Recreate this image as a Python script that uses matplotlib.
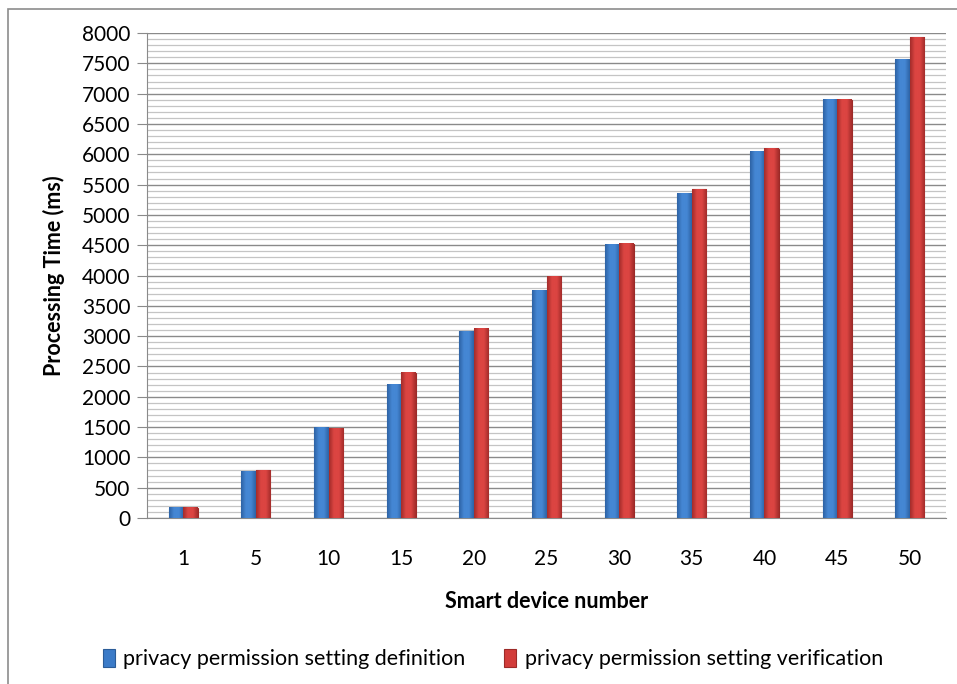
import matplotlib.pyplot as plt
import numpy as np
from matplotlib.patches import Rectangle

plt.rcParams['font.family'] = ['Lato', 'DejaVu Sans']

# data
devices = ['1', '5', '10', '15', '20', '25', '30', '35', '40', '45', '50']
definition = [165, 760, 1490, 2200, 3080, 3750, 4510, 5350, 6040, 6900, 7560]
verification = [165, 790, 1475, 2400, 3120, 3980, 4520, 5420, 6090, 6900, 7930]
labels = ['privacy permission setting definition', 'privacy permission setting verification']

fig = plt.figure(figsize=(9.57, 6.84), dpi=100)
fig.patches.append(Rectangle((8 / 957, -0.01), 1.0, 1 - 9 / 684 + 0.01, transform=fig.transFigure,
                             fill=False, edgecolor='#8c8c8c', linewidth=1.2))
ax = fig.add_axes([147 / 957, 1 - 518 / 684, (946 - 147) / 957, (518 - 33) / 684])

x = np.arange(len(devices))
w = 0.2


def shade(bars, light, dark):
    # cylinder-like horizontal gradient on each bar
    cmap = plt.matplotlib.colors.LinearSegmentedColormap.from_list('g', [dark, light, light, dark])
    grad = np.linspace(0, 1, 64).reshape(1, -1)
    for b in bars:
        x0, y0 = b.get_x(), b.get_y()
        ax.imshow(grad, cmap=cmap, aspect='auto', extent=(x0, x0 + b.get_width(), y0, y0 + b.get_height()),
                  clip_path=b, zorder=3, interpolation='bicubic')


b1 = ax.bar(x - w / 2, definition, w, color='#3b7bc8', edgecolor='#2b5c98', linewidth=0.8, zorder=2,
            label=labels[0])
b2 = ax.bar(x + w / 2, verification, w, color='#d23c3a', edgecolor='#9c2a28', linewidth=0.8, zorder=2,
            label=labels[1])
shade(b1, '#4587d4', '#2d62a4')
shade(b2, '#dc4542', '#a22c2a')

ax.set_xlim(-0.5, len(devices) - 0.5)
ax.set_ylim(0, 8000)
ax.set_yticks(np.arange(0, 8001, 500))
ax.set_yticks(np.arange(0, 8001, 100), minor=True)
ax.grid(axis='y', which='major', color='#8a8a8a', linewidth=1.0, zorder=0)
ax.grid(axis='y', which='minor', color='#c4c4c4', linewidth=0.9, zorder=0)
ax.set_axisbelow(True)
ax.set_xticks(x)
ax.set_xticklabels(devices)
ax.tick_params(axis='x', length=0, pad=22, labelsize=15)
ax.tick_params(axis='y', which='major', length=7, color='#8a8a8a', labelsize=15, pad=5)
ax.tick_params(axis='y', which='minor', length=0)
for s in ['top', 'right']:
    ax.spines[s].set_visible(False)
for s in ['left', 'bottom']:
    ax.spines[s].set_color('#8a8a8a')

ax.set_xlabel('Smart device number', fontsize=15.5, fontweight='bold', labelpad=16)
ax.set_ylabel('Processing Time (ms)', fontsize=15.5, fontweight='bold', labelpad=12)

fig.legend(handles=[b1, b2], labels=labels, loc='center', bbox_to_anchor=(493 / 957, 1 - 659 / 684),
           ncol=2, frameon=False, fontsize=15.5, handlelength=0.55, handleheight=0.9, columnspacing=1.8,
           handletextpad=0.4)

fig.savefig('out.png', dpi=100)
